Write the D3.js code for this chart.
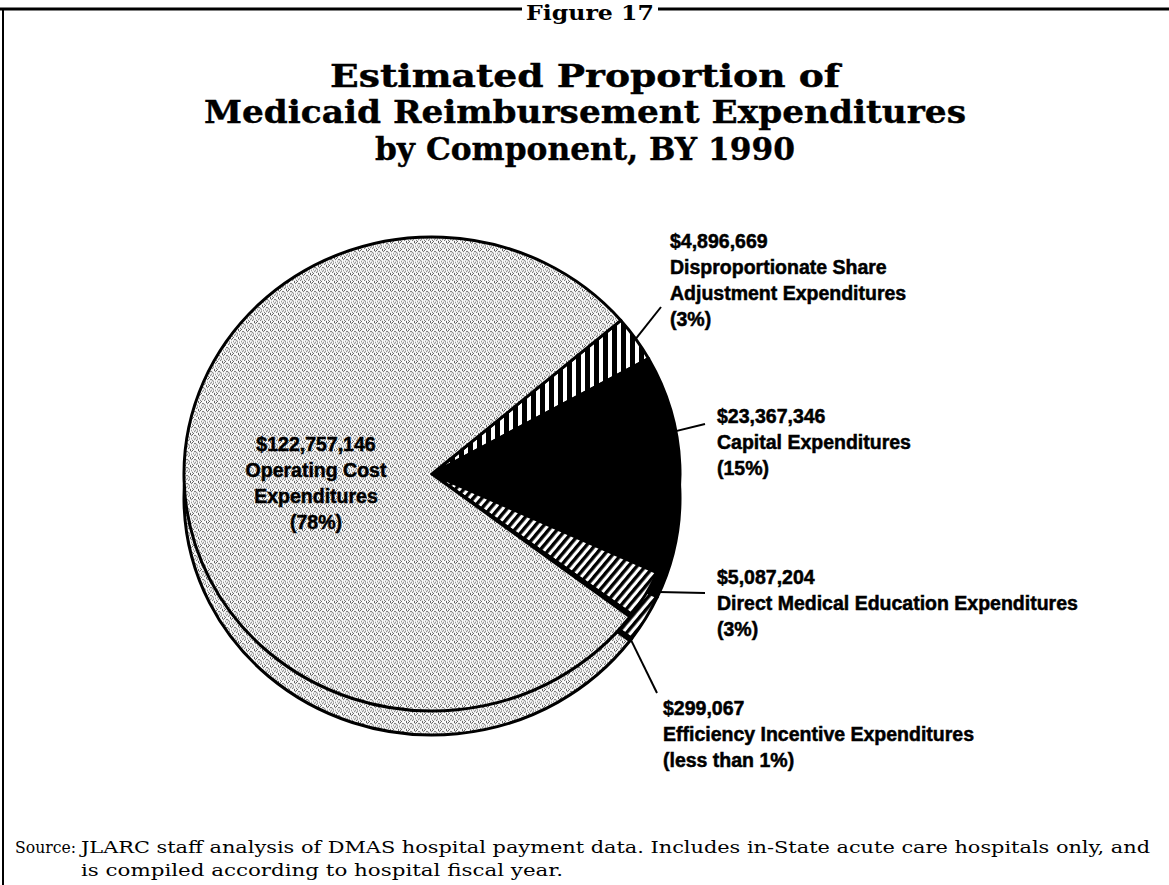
<!DOCTYPE html>
<html>
<head>
<meta charset="utf-8">
<script src="https://cdn.jsdelivr.net/npm/d3@7"></script>
<style>
  html, body { margin: 0; padding: 0; background: #fff; }
  svg { display: block; }
</style>
</head>
<body>
<svg id="chart" width="1169" height="885"></svg>
<script>
// ---- data ----
const figureLabel = "Figure 17";
const titleLines = [
  "Estimated Proportion of",
  "Medicaid Reimbursement Expenditures",
  "by Component, BY 1990"
];
const categories = [
  "Disproportionate Share Adjustment",
  "Capital",
  "Direct Medical Education",
  "Efficiency Incentive",
  "Operating Cost"
];
const amounts = [4896669, 23367346, 5087204, 299067, 122757146];
const labelLines = [
  ["Disproportionate Share", "Adjustment Expenditures"],
  ["Capital Expenditures"],
  ["Direct Medical Education Expenditures"],
  ["Efficiency Incentive Expenditures"],
  ["Operating Cost", "Expenditures"]
];
const sourceHead = "Source:";
const sourceLines = [
  "JLARC staff analysis of DMAS hospital payment data.  Includes in-State acute care hospitals only, and",
  "is compiled according to hospital fiscal year."
];

// ---- layout ----
const W = 1169, H = 885;
const cx = 432, cy = 474, rx = 248, ry = 237, depth = 24;
const squash = ry / rx;
const startDeg = 49.6;
const fills = ["url(#vstripe)", "#000", "url(#dstripe)", "#000", "url(#stipple)"];

// label placement per slice: leader anchor (fraction along slice, radius factor, extra drop),
// leader end, text origin, anchor
const labelLayout = [
  { t: 0.5,  k: 1.0,  drop: 0,     end: [661, 307], x: 670, y: 248, anchor: "start" },
  { t: 0.35, k: 0.97, drop: 0,     end: [705, 424], x: 717, y: 423, anchor: "start" },
  { t: 0.34, k: 1.04, drop: 0,     end: [705, 593], x: 717, y: 584, anchor: "start" },
  { t: 0.5,  k: 1.0,  drop: depth, end: [657, 693], x: 663, y: 715, anchor: "start" },
  { inside: true, x: 316, y: 451, anchor: "middle" }
];
const lineGap = 26;

const svg = d3.select("#chart");
const defs = svg.append("defs");

// halftone stipple for the large slice (irregular dot tile)
const stipDots = [[0,0],[3,1],[6,0],[1,3],[5,3],[7,4],[2,5],[4,6],[0,6],[6,7],[3,4],[1,7],[7,1],[4,2],[2,1],[5,5]];
const stip = defs.append("pattern").attr("id", "stipple")
  .attr("patternUnits", "userSpaceOnUse").attr("width", 8).attr("height", 8)
  .attr("patternTransform", `scale(1,${1 / squash})`);
stip.append("rect").attr("width", 8).attr("height", 8).attr("fill", "#fbfbfb");
stipDots.forEach(([x, y]) =>
  stip.append("rect").attr("x", x).attr("y", y).attr("width", 1).attr("height", 1).attr("fill", "#5a5a5a"));

// vertical hatching
const vs = defs.append("pattern").attr("id", "vstripe")
  .attr("patternUnits", "userSpaceOnUse").attr("width", 9).attr("height", 9)
  .attr("patternTransform", `scale(1,${1 / squash})`);
vs.append("rect").attr("width", 9).attr("height", 9).attr("fill", "#fff");
vs.append("rect").attr("width", 5).attr("height", 9).attr("fill", "#000");

// diagonal hatching
const ds = defs.append("pattern").attr("id", "dstripe")
  .attr("patternUnits", "userSpaceOnUse").attr("width", 6.5).attr("height", 6.5)
  .attr("patternTransform", `scale(1,${1 / squash}) rotate(40)`);
ds.append("rect").attr("width", 6.5).attr("height", 6.5).attr("fill", "#fff");
ds.append("rect").attr("width", 3.4).attr("height", 6.5).attr("fill", "#000");

// ---- frame ----
svg.append("line").attr("x1", 0).attr("x2", 522).attr("y1", 9).attr("y2", 9)
  .attr("stroke", "#000").attr("stroke-width", 3);
svg.append("line").attr("x1", 658).attr("x2", W).attr("y1", 9).attr("y2", 9)
  .attr("stroke", "#000").attr("stroke-width", 3);
svg.append("line").attr("x1", 3).attr("x2", 3).attr("y1", 8).attr("y2", H)
  .attr("stroke", "#000").attr("stroke-width", 2);
svg.append("text").attr("x", 590).attr("y", 20)
  .attr("text-anchor", "middle")
  .attr("font-family", "'DejaVu Serif', serif").attr("font-weight", "bold")
  .attr("font-size", 21).attr("textLength", 128).attr("lengthAdjust", "spacingAndGlyphs")
  .text(figureLabel);

// ---- title ----
const titleBase = [87, 123, 160];
const titleWidth = [510, 762, 420];
titleLines.forEach((t, i) => {
  svg.append("text").attr("x", 585).attr("y", titleBase[i])
    .attr("text-anchor", "middle")
    .attr("font-family", "'DejaVu Serif', serif").attr("font-weight", "bold")
    .attr("font-size", 32.5)
    .attr("stroke", "#000").attr("stroke-width", 0.4)
    .attr("textLength", titleWidth[i]).attr("lengthAdjust", "spacingAndGlyphs")
    .text(t);
});

// ---- pie ----
const data = categories.map((c, i) => ({ name: c, amount: amounts[i], idx: i }));
const start = startDeg * Math.PI / 180;
const pie = d3.pie().sort(null).value(d => d.amount)
  .startAngle(start).endAngle(start + 2 * Math.PI);
const arcs = pie(data);
const arc = d3.arc().innerRadius(0).outerRadius(rx);

// side of the disc (drawn first, shifted down)
const sideLayer = svg.append("g").attr("transform", `translate(${cx},${cy + depth}) scale(1,${squash})`);
sideLayer.selectAll("path").data(arcs).join("path")
  .attr("d", arc)
  .attr("fill", d => fills[d.data.idx])
  .attr("stroke", "#000").attr("stroke-width", 3)
  .attr("stroke-linejoin", "round")
  .attr("vector-effect", "non-scaling-stroke");

// top face
const faceLayer = svg.append("g").attr("transform", `translate(${cx},${cy}) scale(1,${squash})`);
faceLayer.selectAll("path").data(arcs).join("path")
  .attr("d", arc)
  .attr("fill", d => fills[d.data.idx])
  .attr("stroke", "#000").attr("stroke-width", 3)
  .attr("stroke-linejoin", "round")
  .attr("vector-effect", "non-scaling-stroke");

// ---- labels ----
const total = d3.sum(amounts);
const money = d3.format("$,");
const pctText = v => {
  const p = v / total * 100;
  return p < 1 ? "(less than 1%)" : `(${Math.round(p)}%)`;
};

arcs.forEach(a => {
  const i = a.data.idx;
  const L = labelLayout[i];
  if (!L.inside) {
    const ang = a.startAngle + L.t * (a.endAngle - a.startAngle);
    const px = cx + L.k * rx * Math.sin(ang);
    const py = cy - L.k * ry * Math.cos(ang) + L.drop;
    svg.append("line").attr("x1", px).attr("y1", py)
      .attr("x2", L.end[0]).attr("y2", L.end[1])
      .attr("stroke", "#000").attr("stroke-width", 2);
  }
  const lines = [money(amounts[i]), ...labelLines[i], pctText(amounts[i])];
  const txt = svg.append("text")
    .attr("font-family", "'Liberation Sans', Arial, sans-serif")
    .attr("font-weight", "bold").attr("font-size", 19.5)
    .attr("text-anchor", L.anchor)
    .attr("fill", "#000").attr("stroke", "#000").attr("stroke-width", 0.5);
  lines.forEach((s, j) => {
    txt.append("tspan").attr("x", L.x).attr("y", L.y + j * lineGap).text(s);
  });
});

// ---- source note ----
const srcFont = "'DejaVu Serif', serif";
svg.append("text").attr("x", 15).attr("y", 853)
  .attr("font-family", srcFont).attr("font-size", 16.5)
  .attr("textLength", 61).attr("lengthAdjust", "spacingAndGlyphs")
  .text(sourceHead);
svg.append("text").attr("x", 81).attr("y", 853)
  .attr("font-family", srcFont).attr("font-size", 16.5)
  .attr("textLength", 1069).attr("lengthAdjust", "spacingAndGlyphs")
  .text(sourceLines[0]);
svg.append("text").attr("x", 81).attr("y", 876)
  .attr("font-family", srcFont).attr("font-size", 16.5)
  .attr("textLength", 482).attr("lengthAdjust", "spacingAndGlyphs")
  .text(sourceLines[1]);
</script>
</body>
</html>
